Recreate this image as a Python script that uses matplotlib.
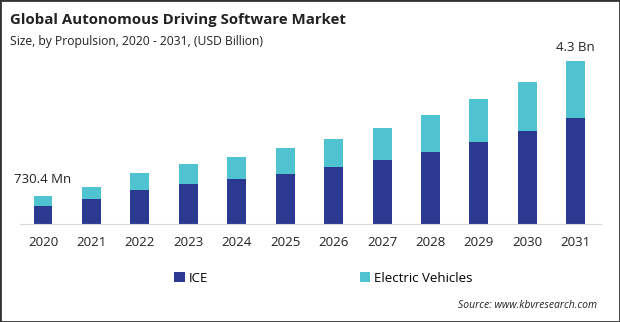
import matplotlib.pyplot as plt
from matplotlib.patches import Rectangle
import numpy as np

plt.rcParams['font.family'] = ['Open Sans', 'DejaVu Sans']

years = ['2020', '2021', '2022', '2023', '2024', '2025',
         '2026', '2027', '2028', '2029', '2030', '2031']
ice = [0.475, 0.66, 0.90, 1.055, 1.19, 1.32, 1.50, 1.69, 1.90, 2.16, 2.45, 2.80]
ev = [0.255, 0.32, 0.45, 0.53, 0.58, 0.68, 0.74, 0.84, 0.98, 1.14, 1.30, 1.50]
first_label = '730.4 Mn'
last_label = '4.3 Bn'

ice_color = '#2B3990'
ev_color = '#4FC3CF'

fig = plt.figure(figsize=(6.2, 3.22), dpi=100)
ax = fig.add_axes([20 / 620, 98 / 322, 581 / 620, 163 / 322])

x = np.arange(len(years))
b1 = ax.bar(x, ice, width=0.39, color=ice_color, label='ICE')
b2 = ax.bar(x, ev, width=0.39, bottom=ice, color=ev_color, label='Electric Vehicles')

totals = np.array(ice) + np.array(ev)
ax.text(x[0], totals[0] + 0.28, first_label, ha='center', va='bottom', fontsize=9.5, color='#222222')
ax.text(x[-1], totals[-1] + 0.18, last_label, ha='center', va='bottom', fontsize=9.5, color='#222222')

ax.set_xlim(-0.475, 11.52)
ax.set_ylim(0, totals.max())
ax.set_xticks(x)
ax.set_xticklabels(years, fontsize=9.5, color='#222222')
ax.tick_params(axis='x', length=0, pad=9)
ax.set_yticks([])
for s in ['top', 'right', 'left']:
    ax.spines[s].set_visible(False)
ax.spines['bottom'].set_color('#D9D9D9')
ax.patch.set_alpha(0)

fig.text(10 / 620, 1 - 20 / 322, 'Global Autonomous Driving Software Market',
         fontsize=10.8, fontweight='bold', color='#222222', va='center')
fig.text(10 / 620, 1 - 41 / 322, 'Size, by Propulsion, 2020 - 2031, (USD Billion)',
         fontsize=8.7, color='#222222', va='center')

fig.legend(handles=[b1, b2], loc='center left', bbox_to_anchor=(174 / 620, 1 - 278 / 322),
           ncol=2, frameon=False, fontsize=9.5, handlelength=0.8, handleheight=0.8,
           handletextpad=0.3, columnspacing=11.5, borderaxespad=0, borderpad=0)

fig.text(597 / 620, 1 - 305 / 322, 'Source: www.kbvresearch.com', fontsize=7.5,
         style='italic', ha='right', va='center', color='#222222')

fig.patches.append(Rectangle((0, 0), 1, 1, transform=fig.transFigure, fill=False,
                             edgecolor='#333333', linewidth=2))

fig.savefig('out.png', dpi=100)
